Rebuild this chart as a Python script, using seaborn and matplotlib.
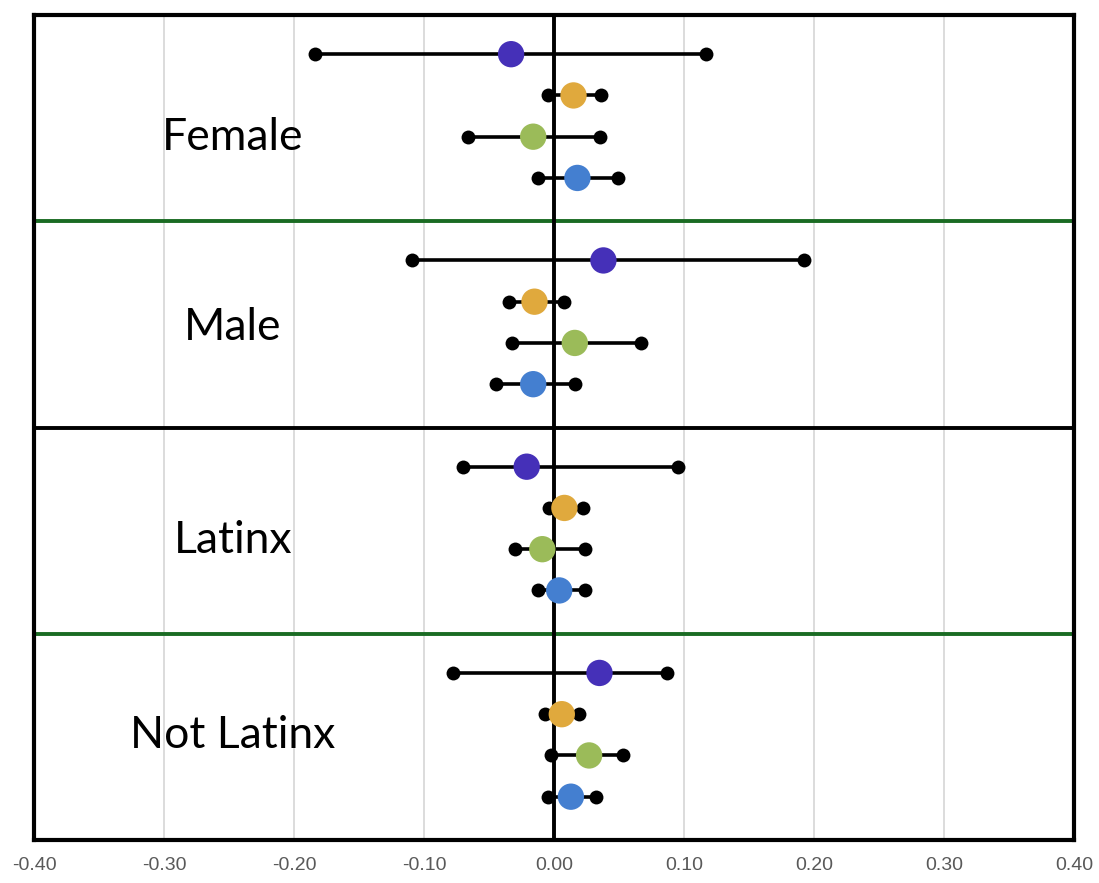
import numpy as np
import pandas as pd
import matplotlib
matplotlib.use('Agg')
import matplotlib.pyplot as plt
import seaborn as sns

# groups and the four estimates per group (top to bottom)
groups = ["Female", "Male", "Latinx", "Not Latinx"]
series = ["s1", "s2", "s3", "s4"]
colors = ["#4530b8", "#e0a93d", "#9bbb59", "#447fd0"]

estimate = [
    [-0.033, 0.015, -0.016, 0.018],
    [0.038, -0.015, 0.016, -0.016],
    [-0.021, 0.008, -0.009, 0.004],
    [0.035, 0.006, 0.027, 0.013],
]
lower = [
    [-0.184, -0.005, -0.066, -0.012],
    [-0.109, -0.035, -0.032, -0.045],
    [-0.070, -0.004, -0.030, -0.012],
    [-0.078, -0.007, -0.002, -0.005],
]
upper = [
    [0.117, 0.036, 0.035, 0.049],
    [0.192, 0.008, 0.067, 0.016],
    [0.095, 0.022, 0.024, 0.024],
    [0.087, 0.019, 0.053, 0.032],
]
xticks = [-0.4, -0.3, -0.2, -0.1, 0.0, 0.1, 0.2, 0.3, 0.4]

rows = []
for g, name in enumerate(groups):
    for k, s in enumerate(series):
        rows.append({"group": name, "series": s, "y": g * 5 + k + 0.95,
                     "est": estimate[g][k], "lo": lower[g][k], "hi": upper[g][k]})
df = pd.DataFrame(rows)

sns.set_style("white")
fig = plt.figure(figsize=(10.99, 8.83), dpi=100)
ax = fig.add_axes([34 / 1099, 1 - 840 / 883, (1074 - 34) / 1099, (840 - 15) / 883])

# vertical gridlines
for t in xticks:
    ax.axvline(t, color="#d9d9d9", lw=1.3, zorder=0)

# separators between groups
ax.axhline(5, color="#1a6b23", lw=2.8, zorder=1)
ax.axhline(10, color="black", lw=2.8, zorder=1)
ax.axhline(15, color="#1a6b23", lw=2.8, zorder=1)

# intervals
ax.hlines(df["y"], df["lo"], df["hi"], color="black", lw=2.6, zorder=2)
ends = pd.concat([df[["y", "lo"]].rename(columns={"lo": "x"}),
                  df[["y", "hi"]].rename(columns={"hi": "x"})])
sns.scatterplot(data=ends, x="x", y="y", color="black", s=100,
                linewidth=0, ax=ax, zorder=3)

ax.axvline(0, color="black", lw=2.8, zorder=3)

sns.scatterplot(data=df, x="est", y="y", hue="series", palette=colors,
                s=360, linewidth=0, legend=False, ax=ax, zorder=4)

# group labels
label_y = [2.98, 7.58, 12.74, 17.47]
for name, yy in zip(groups, label_y):
    ax.text(-0.247, yy, name, ha="center", va="center", fontsize=32,
            family="Lato", color="black")

ax.set_xlim(-0.4, 0.4)
ax.set_ylim(20, 0)
ax.set_xticks(xticks)
ax.set_xticklabels([f"{t:.2f}" for t in xticks], color="#595959", fontsize=14,
                   family=["Liberation Sans", "DejaVu Sans"])
ax.tick_params(axis="x", length=0, pad=12)
ax.set_yticks([])
ax.set_xlabel("")
ax.set_ylabel("")
for sp in ax.spines.values():
    sp.set_visible(True)
    sp.set_color("black")
    sp.set_linewidth(3)

fig.savefig("out.png", dpi=100)
